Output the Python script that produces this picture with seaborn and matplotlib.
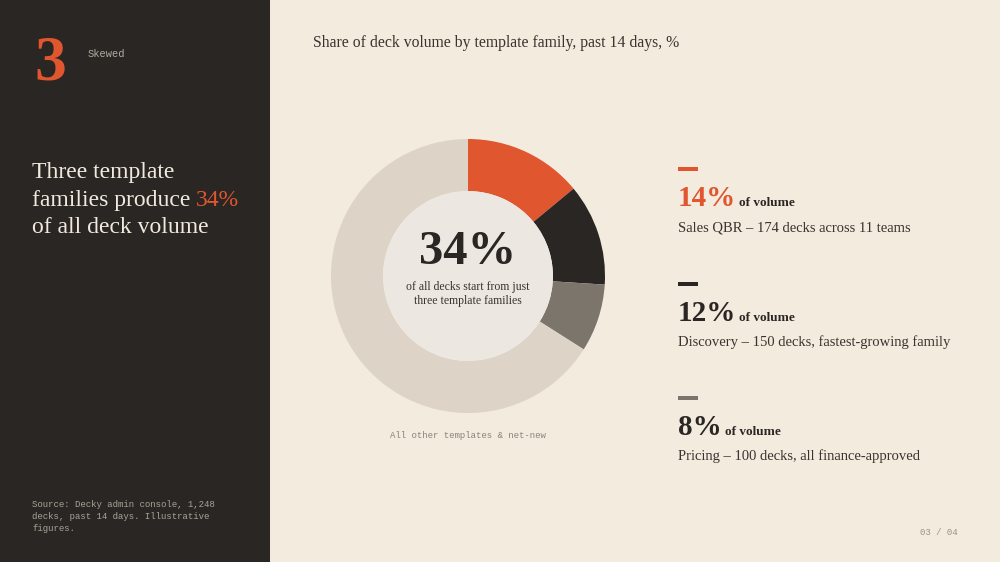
import matplotlib
matplotlib.use('Agg')
import matplotlib.pyplot as plt
from matplotlib.patches import Rectangle, Circle
import seaborn as sns

# data
families = ['Sales QBR', 'Discovery', 'Pricing', 'All other templates & net-new']
shares = [14, 12, 8, 66]
decks = [174, 150, 100]
notes = ['174 decks across 11 teams', '150 decks, fastest-growing family',
         '100 decks, all finance-approved']
top_share = sum(shares[:3])

BG = '#f4ebdf'
PANEL = '#2a2623'
ORANGE = '#e0572f'
DARK = '#2a2623'
GREY = '#7b756c'
LIGHT = '#ddd4c7'
HOLE = '#ece8e1'
TEXT = '#3a332e'
colors = [ORANGE, DARK, GREY, LIGHT]

sns.set_theme(style='white')
SERIF = ['Liberation Serif', 'DejaVu Serif']
MONO = ['Liberation Mono', 'DejaVu Sans Mono']

fig = plt.figure(figsize=(10, 5.62), dpi=100)
fig.patch.set_facecolor(BG)
W, H = 1000, 562


def px(x, y):
    return x / W, 1 - y / H


# left dark panel
fig.add_artist(Rectangle((0, 0), 270 / W, 1, transform=fig.transFigure,
                         facecolor=PANEL, edgecolor='none', zorder=0))

fig.text(*px(34, 80), '3', family=SERIF, fontsize=46, fontweight='bold',
         color=ORANGE, va='baseline')
fig.text(*px(88, 57), 'Skewed', family=MONO, fontsize=7.5, color='#b3aba1',
         va='baseline')

renderer = fig.canvas.get_renderer()
head_kw = dict(family=SERIF, fontsize=17, color='#f1e9dd', va='baseline')
fig.text(*px(32, 178), 'Three template', **head_kw)
t = fig.text(*px(32, 206), 'families produce ', **head_kw)
bb = t.get_window_extent(renderer)
fig.text(bb.x1 / W, 1 - 206 / H, f'{top_share}%', **{**head_kw, 'color': ORANGE})
fig.text(*px(32, 233), 'of all deck volume', **head_kw)

fig.text(*px(32, 500), 'Source: Decky admin console, 1,248\ndecks, past 14 days. Illustrative\nfigures.',
         family=MONO, fontsize=6.5, color='#aaa298', va='top', linespacing=1.45)

# title
fig.text(*px(313, 47), 'Share of deck volume by template family, past 14 days, %',
         family=SERIF, fontsize=11.3, color=TEXT, va='baseline')

# donut
cx, cy, r_px = 468, 276, 137
half = 160
ax = fig.add_axes([(cx - half) / W, (H - cy - half) / H, 2 * half / W, 2 * half / H])
ax.pie(shares, colors=colors, startangle=90, counterclock=False, radius=1,
       wedgeprops=dict(width=0.38, edgecolor='none', linewidth=0))
ax.add_patch(Circle((0, 0), 0.62, facecolor=HOLE, edgecolor='none', zorder=3))
lim = half / r_px
ax.set_xlim(-lim, lim)
ax.set_ylim(-lim, lim)
ax.set_aspect('auto')
ax.axis('off')

fig.text(*px(cx, 264), f'{top_share}%', family=SERIF, fontsize=35,
         fontweight='bold', color=DARK, ha='center', va='baseline')
fig.text(*px(cx, 294), 'of all decks start from just\nthree template families',
         family=SERIF, fontsize=8.5, color=TEXT, ha='center', va='center',
         linespacing=1.25)
fig.text(*px(cx, 438), families[3], family=MONO, fontsize=6.5, color='#8a8178',
         ha='center', va='baseline')

# right-hand callouts
tops = [167, 282, 396]
for i in range(3):
    y0 = tops[i]
    fig.add_artist(Rectangle(px(678, y0 + 4), 20 / W, 4 / H, transform=fig.transFigure,
                             facecolor=colors[i], edgecolor='none'))
    pc = ORANGE if i == 0 else DARK
    t = fig.text(*px(678, y0 + 39), f'{shares[i]}%', family=SERIF, fontsize=21,
                 fontweight='bold', color=pc, va='baseline')
    bb = t.get_window_extent(renderer)
    fig.text((bb.x1 + 3) / W, 1 - (y0 + 39) / H, 'of volume', family=SERIF,
             fontsize=9.5, fontweight='bold', color=DARK, va='baseline')
    fig.text(*px(678, y0 + 64), f'{families[i]} – {notes[i]}', family=SERIF,
             fontsize=10.5, color=TEXT, va='baseline')

fig.text(*px(958, 535), '03 / 04', family=MONO, fontsize=6.5, color='#9a9188',
         ha='right', va='baseline')

fig.savefig('out.png', dpi=100, facecolor=BG)
